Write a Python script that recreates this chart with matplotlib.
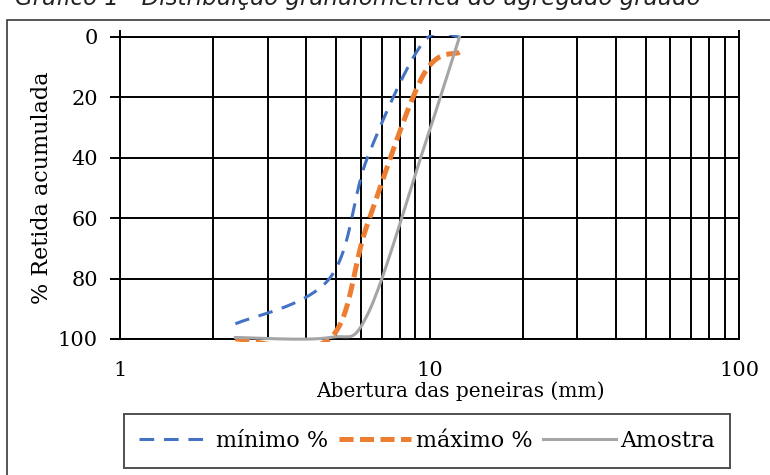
import numpy as np
import matplotlib
matplotlib.use("Agg")
import matplotlib.pyplot as plt
from matplotlib.patches import Rectangle
from matplotlib.ticker import FixedLocator, NullFormatter

# ---- data ----
sieves = [2.36, 4.75, 6.3, 9.5, 12.5]          # abertura (mm)
minimo = [95, 80, 40, 2, 0]                    # % retida acumulada
maximo = [100, 100, 62, 13, 5]
amostra = [99.5, 99.5, 92, 38, 0]
x_ticks = [1, 10, 100]
y_ticks = [0, 20, 40, 60, 80, 100]
labels = ["mínimo %", "máximo %", "Amostra"]
title = "Gráfico 1 - Distribuição granulométrica do agregado graúdo"

W, H = 7.7, 4.75
fig = plt.figure(figsize=(W, H), dpi=100)
L, R, T, B = 120, 739, 37, 339
ax = fig.add_axes([L / 770, 1 - B / 475, (R - L) / 770, (B - T) / 475])

# Excel-like smoothed line (Bezier through points, computed in screen-like space)
def smooth(xs, ys, n=40):
    u = np.log10(np.asarray(xs, float)) / 2.0 * (R - L)
    v = np.asarray(ys, float) / 100.0 * (B - T)
    P = np.column_stack([u, v])
    out = []
    m = len(P)
    for i in range(m - 1):
        p0 = P[i - 1] if i > 0 else P[i]
        p1, p2 = P[i], P[i + 1]
        p3 = P[i + 2] if i + 2 < m else P[i + 1]
        c1 = p1 + (p2 - p0) / 6.0
        c2 = p2 - (p3 - p1) / 6.0
        t = np.linspace(0, 1, n)[:, None]
        seg = ((1 - t) ** 3) * p1 + 3 * ((1 - t) ** 2) * t * c1 + 3 * (1 - t) * t ** 2 * c2 + t ** 3 * p2
        out.append(seg if i == 0 else seg[1:])
    S = np.vstack(out)
    xx = 10 ** (S[:, 0] / (R - L) * 2.0)
    yy = S[:, 1] / (B - T) * 100.0
    return xx, yy

serif = "DejaVu Serif"
FS = 15

xs, ys = smooth(sieves, minimo)
l1, = ax.plot(xs, ys, color="#4472C4", lw=2.2, dashes=(4.8, 3.2), label=labels[0], zorder=3)
xs, ys = smooth(sieves, maximo)
l2, = ax.plot(xs, ys, color="#ED7D31", lw=3.6, dashes=(2.8, 1.3), label=labels[1], zorder=4)
xs, ys = smooth(sieves, amostra)
l3, = ax.plot(xs, ys, color="#A5A5A5", lw=2.2, label=labels[2], zorder=5)
pad = 2.5 / (B - T)
for ln in (l1, l2, l3):
    clip = Rectangle((0, -pad), 1, 1 + 2 * pad, transform=ax.transAxes)
    ln.set_clip_path(clip)

ax.set_xscale("log")
ax.set_xlim(1, 100)
ax.set_ylim(100, 0)

ax.xaxis.set_major_locator(FixedLocator(x_ticks))
ax.xaxis.set_minor_locator(FixedLocator([v * d for d in (1, 10) for v in range(2, 10)]))
ax.xaxis.set_minor_formatter(NullFormatter())
ax.set_xticklabels([str(v) for v in x_ticks])
ax.set_yticks(y_ticks)
ax.set_yticklabels([str(v) for v in y_ticks])

ax.grid(True, which="both", axis="x", color="black", lw=1.4)
ax.grid(True, which="major", axis="y", color="black", lw=1.4)
for s in ax.spines.values():
    s.set_color("black")
    s.set_linewidth(1.4)

ax.tick_params(axis="x", which="major", top=True, bottom=False, labeltop=False,
               labelbottom=True, direction="out", length=5, width=1.4, pad=11,
               labelsize=FS)
ax.tick_params(axis="x", which="minor", top=False, bottom=False, length=0)
ax.tick_params(axis="y", which="major", left=True, direction="out", length=7,
               width=1.4, pad=9, labelsize=FS)
for lab in ax.get_xticklabels() + ax.get_yticklabels():
    lab.set_fontfamily(serif)

ax.set_ylabel("% Retida acumulada", fontsize=FS + 1, fontfamily=serif)
ax.set_xlabel("Abertura das peneiras (mm)", fontsize=FS - 0.5, fontfamily=serif)
ax.xaxis.set_label_coords((460 - L) / (R - L), -(391 - B) / (B - T), transform=ax.transAxes)
ax.yaxis.set_label_coords(-(L - 42) / (R - L), 0.5)
ax.xaxis.label.set_va("center")
ax.yaxis.label.set_va("center")

leg = fig.legend(handles=[l1, l2, l3], labels=labels, loc="center", ncol=3,
                 bbox_to_anchor=(427 / 770, 1 - 441 / 475),
                 prop={"family": serif, "size": 16}, frameon=True, fancybox=False,
                 handlelength=3.25, handletextpad=0.2, columnspacing=0.5,
                 borderpad=0.7, borderaxespad=0)
leg.get_frame().set_edgecolor("#222222")
leg.get_frame().set_linewidth(1.4)

# outer chart frame (cropped on right and bottom)
fig.patches.append(Rectangle((7 / 770, -0.2), 1.2, 1.2 - 20 / 475,
                             transform=fig.transFigure, fill=False,
                             edgecolor="#3a3a3a", lw=1.2))

fig.text(358 / 770, 1 - 5 / 475, title, ha="center", va="baseline",
         fontsize=16.5, fontstyle="italic", color="#222222", family="DejaVu Sans")

fig.savefig("out.png", dpi=100)
